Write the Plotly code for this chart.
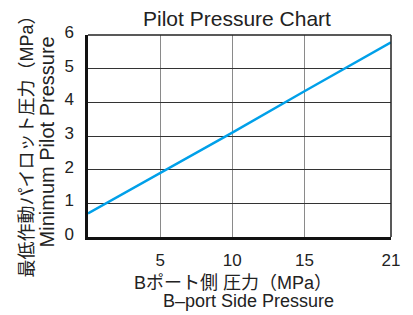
import plotly.graph_objects as go

# Data
b_port_pressure = [0, 5, 10, 15, 21]
min_pilot_pressure = [0.7, 1.9, 3.1, 4.33, 5.78]
x_ticks = [5, 10, 15, 21]
y_ticks = [0, 1, 2, 3, 4, 5, 6]

FONT = "Liberation Sans, Arial, Noto Sans CJK JP, sans-serif"
TXT = "#222222"

fig = go.Figure()
fig.add_trace(go.Scatter(
    x=b_port_pressure, y=min_pilot_pressure, mode="lines",
    line=dict(color="#00a0e9", width=2.4), showlegend=False,
    hoverinfo="skip"))

# page body has an 8px margin, so the figure is sized to fill the rest of the window
fig.update_layout(
    width=405, height=307,
    margin=dict(l=80, r=22, t=27, b=78),
    paper_bgcolor="white", plot_bgcolor="white",
    font=dict(family=FONT, color=TXT, size=17),
    title=dict(text="Pilot Pressure Chart", x=0.5654, xanchor="center",
               y=0.965, yanchor="middle",
               font=dict(family=FONT, size=21, color=TXT)),
    xaxis=dict(range=[0, 21], tickvals=x_ticks, ticktext=[str(v) for v in x_ticks],
               showgrid=True, gridcolor="#8a8a8a", gridwidth=1.3,
               showline=True, linecolor="#111", linewidth=2.5,
               ticks="", ticklabelstandoff=6, zeroline=False, automargin=False,
               tickfont=dict(size=17, color=TXT), fixedrange=True),
    yaxis=dict(range=[0, 6], tickvals=y_ticks, ticktext=[str(v) for v in y_ticks],
               showgrid=True, gridcolor="#333", gridwidth=1.2,
               showline=True, linecolor="#111", linewidth=2.5,
               ticks="", ticklabelstandoff=8, ticklabelshift=-3, zeroline=False,
               automargin=False,
               tickfont=dict(size=17, color=TXT), fixedrange=True),
)

# top and right frame lines (thinner)
fig.add_shape(type="line", xref="paper", yref="paper", x0=0, x1=1, y0=1, y1=1,
              line=dict(color="#222", width=1.5))
fig.add_shape(type="line", xref="paper", yref="paper", x0=1, x1=1, y0=0, y1=1,
              line=dict(color="#222", width=1.5))

# axis titles
fig.add_annotation(text="Bポート側 圧力（MPa）", xref="paper", yref="paper",
                   x=0.4785, y=-0.2278, xanchor="center", yanchor="middle",
                   showarrow=False, font=dict(family=FONT, size=18, color=TXT))
fig.add_annotation(text="B–port Side Pressure", xref="paper", yref="paper",
                   x=0.531, y=-0.3168, xanchor="center", yanchor="middle",
                   showarrow=False, font=dict(family=FONT, size=18, color=TXT))
fig.add_annotation(text="最低作動パイロット圧力（MPa）", xref="paper", yref="paper",
                   x=-0.2013, y=-0.213, xanchor="center", yanchor="bottom",
                   textangle=-90, showarrow=False,
                   font=dict(family=FONT, size=18, color=TXT))
fig.add_annotation(text="Minimum Pilot Pressure", xref="paper", yref="paper",
                   x=-0.1353, y=-0.064, xanchor="center", yanchor="bottom",
                   textangle=-90, showarrow=False,
                   font=dict(family=FONT, size=20, color=TXT))

fig.write_html("out.html")
